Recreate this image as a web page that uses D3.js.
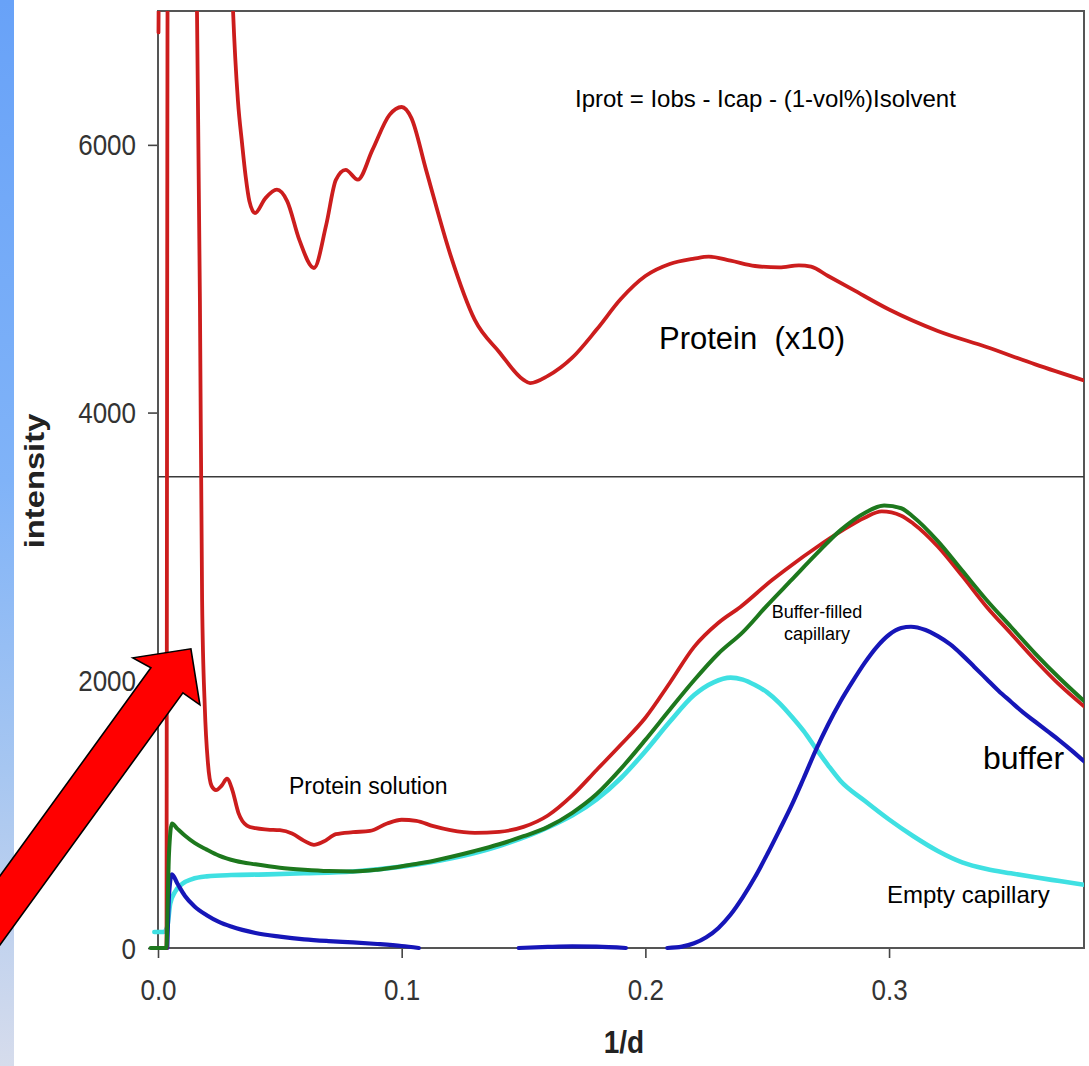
<!DOCTYPE html>
<html>
<head>
<meta charset="utf-8">
<script src="https://cdn.jsdelivr.net/npm/d3@7"></script>
<style>
  html, body { margin: 0; padding: 0; background: #ffffff; }
  svg { display: block; font-family: "Liberation Sans", Arial, Helvetica, sans-serif; }
</style>
</head>
<body>
<svg id="chart" width="1089" height="1066"></svg>
<script>
// Axis ticks
const xTicks = [0.0, 0.1, 0.2, 0.3];
const yTicks = [0, 2000, 4000, 6000];

// Protein solution (observed)
const redX = [0.0035, 0.0042, 0.0150, 0.0160, 0.0172, 0.0181, 0.0192, 0.0205, 0.0220, 0.0238,
              0.0262, 0.0283, 0.0305, 0.0330, 0.0365, 0.0400, 0.0450, 0.0500, 0.0550, 0.0600,
              0.0640, 0.0680, 0.0730, 0.0800, 0.0870, 0.0940, 0.1000, 0.1060, 0.1130, 0.1200,
              0.1300, 0.1400, 0.1500, 0.1600, 0.1700, 0.1800, 0.1900, 0.2000, 0.2100, 0.2200,
              0.2300, 0.2390, 0.2520, 0.2600, 0.2700, 0.2800, 0.2900, 0.2970, 0.3050, 0.3100,
              0.3200, 0.3300, 0.3400, 0.3500, 0.3600, 0.3700, 0.3800];
const redY = [0, 9000, 9000, 7000, 4840, 2600, 1800, 1380, 1210, 1180,
              1215, 1265, 1180, 1010, 915, 895, 885, 880, 855, 800,
              770, 795, 850, 865, 875, 930, 958, 950, 910, 880,
              860, 868, 905, 990, 1140, 1330, 1520, 1720, 1980, 2250,
              2430, 2548, 2749, 2860, 2990, 3110, 3215, 3262, 3230, 3170,
              3000, 2780, 2550, 2350, 2150, 1965, 1805];

// Buffer-filled capillary
const greenX = [-0.003, 0.0034, 0.0045, 0.0057, 0.0080, 0.0110, 0.0150, 0.0200, 0.0250, 0.0320,
                0.0400, 0.0500, 0.0600, 0.0700, 0.0800, 0.0900, 0.1000, 0.1100, 0.1200, 0.1300,
                0.1400, 0.1500, 0.1600, 0.1700, 0.1800, 0.1900, 0.2000, 0.2100, 0.2200, 0.2300,
                0.2400, 0.2500, 0.2600, 0.2700, 0.2800, 0.2900, 0.2980, 0.3050, 0.3100, 0.3200,
                0.3300, 0.3400, 0.3500, 0.3600, 0.3700, 0.3800];
const greenY = [0, 0, 700, 930, 890, 840, 785, 735, 690, 650,
                625, 600, 585, 575, 572, 585, 610, 640, 680, 725,
                775, 835, 905, 1010, 1150, 1340, 1555, 1780, 2000, 2200,
                2360, 2560, 2750, 2940, 3120, 3250, 3305, 3285, 3220, 3040,
                2820, 2600, 2400, 2200, 2015, 1845];

// Empty capillary
const cyanX = [-0.0015, 0.0025, 0.0038, 0.0050, 0.0070, 0.0100, 0.0140, 0.0200, 0.0300, 0.0450,
               0.0600, 0.0800, 0.1000, 0.1200, 0.1400, 0.1600, 0.1800, 0.1900, 0.2000, 0.2100,
               0.2200, 0.2280, 0.2350, 0.2400, 0.2450, 0.2500, 0.2550, 0.2600, 0.2650, 0.2700,
               0.2750, 0.2800, 0.2900, 0.3000, 0.3100, 0.3200, 0.3300, 0.3400, 0.3500, 0.3600,
               0.3700, 0.3800];
const cyanY = [120, 120, 160, 330, 420, 480, 515, 535, 545, 550,
               558, 572, 608, 668, 762, 900, 1110, 1270, 1470, 1690,
               1890, 1985, 2020, 2005, 1965, 1910, 1830, 1730, 1620, 1490,
               1365, 1250, 1100, 960, 835, 725, 640, 590, 558, 528,
               500, 472];

// Buffer (null = below zero, not drawn)
const blueX = [0.0038, 0.0046, 0.0057, 0.0080, 0.0110, 0.0150, 0.0200, 0.0250, 0.0300, 0.0400,
               0.0500, 0.0600, 0.0700, 0.0800, 0.0900, 0.1000, 0.1070, 0.1270, 0.1480, 0.1600,
               0.1700, 0.1800, 0.1920, 0.2000, 0.2090, 0.2150, 0.2200, 0.2250, 0.2300, 0.2350,
               0.2400, 0.2450, 0.2500, 0.2550, 0.2600, 0.2650, 0.2700, 0.2750, 0.2800, 0.2850,
               0.2900, 0.2950, 0.3000, 0.3050, 0.3090, 0.3150, 0.3200, 0.3250, 0.3300, 0.3350,
               0.3400, 0.3450, 0.3500, 0.3550, 0.3600, 0.3650, 0.3700, 0.3750, 0.3800];
const blueY = [0, 420, 550, 480, 390, 310, 245, 195, 160, 112,
               85, 65, 52, 42, 30, 15, 0, null, 0, 8,
               12, 10, 0, null, 0, 10, 35, 80, 150, 250,
               380, 530, 700, 880, 1065, 1270, 1480, 1670, 1840, 1990,
               2130, 2250, 2340, 2390, 2400, 2375, 2330, 2270, 2190, 2100,
               2010, 1920, 1840, 1760, 1690, 1620, 1550, 1475, 1395];

// Protein contribution, scaled x10
const protX = [0.0002, 0.0012, 0.0280, 0.0295, 0.0308, 0.0328, 0.0345, 0.0360, 0.0375, 0.0398,
               0.0440, 0.0488, 0.0530, 0.0580, 0.0640, 0.0690, 0.0730, 0.0770, 0.0820, 0.0880,
               0.0950, 0.1000, 0.1040, 0.1100, 0.1200, 0.1300, 0.1400, 0.1500, 0.1527, 0.1600,
               0.1700, 0.1800, 0.1900, 0.2000, 0.2100, 0.2200, 0.2260, 0.2350, 0.2450, 0.2550,
               0.2630, 0.2680, 0.2750, 0.2850, 0.3000, 0.3200, 0.3400, 0.3600, 0.3800];
const protY = [6840, 9000, 9000, 7700, 7000, 6330, 6010, 5760, 5580, 5490,
               5600, 5665, 5580, 5290, 5080, 5400, 5738, 5813, 5740, 5962,
               6224, 6283, 6200, 5813, 5178, 4692, 4453, 4244, 4220, 4274,
               4410, 4620, 4850, 5020, 5110, 5150, 5165, 5135, 5095, 5085,
               5100, 5090, 5020, 4920, 4770, 4610, 4490, 4360, 4240];

// Divider between the scaled protein panel and the raw curves
const dividerValue = 3520;
// Point the arrow aims at (the protein-solution spike)
const arrowTip = [0.0135, 2235];

const svg = d3.select("#chart");
const W = 1089, H = 1066;

const x = d3.scaleLinear().domain([0, 0.38]).range([158, 1084]);
const y = d3.scaleLinear().domain([0, 7000]).range([948, 11]);

// Blue side strip
const defs = svg.append("defs");
const grad = defs.append("linearGradient").attr("id", "strip")
  .attr("x1", 0).attr("y1", 0).attr("x2", 0).attr("y2", 1);
[[0, "#68a2f8"], [0.45, "#80b3f8"], [0.72, "#a6c6f1"], [1, "#d6dcec"]].forEach(s =>
  grad.append("stop").attr("offset", s[0]).attr("stop-color", s[1]));
svg.append("rect").attr("x", 0).attr("y", 0).attr("width", 14).attr("height", H)
  .attr("fill", "url(#strip)");

// Clip for the curves (cut at the top of the frame)
defs.append("clipPath").attr("id", "plotClip").append("rect")
  .attr("x", x(0) - 10).attr("y", y(7000))
  .attr("width", x(0.38) - x(0) + 10).attr("height", y(0) - y(7000) + 20);

// Axes
const stretch = 1.13;
const yAxis = d3.axisLeft(y).tickValues(yTicks).tickSize(10).tickFormat(d3.format("d"));
const gy = svg.append("g").attr("transform", `translate(${x(0)},0)`).call(yAxis);
gy.select(".domain").remove();
gy.selectAll(".tick line").attr("stroke", "#444").attr("stroke-width", 1.6);
gy.selectAll(".tick text")
  .attr("x", -22).attr("y", 0).attr("dy", null)
  .attr("transform", `translate(0,10) scale(1,${stretch})`)
  .attr("font-size", 26).attr("fill", "#333")
  .attr("font-family", "Liberation Sans, Arial, sans-serif");

const xAxis = d3.axisBottom(x).tickValues(xTicks).tickSize(10).tickFormat(d3.format(".1f"));
const gx = svg.append("g").attr("transform", `translate(0,${y(0)})`).call(xAxis);
gx.select(".domain").remove();
gx.selectAll(".tick line").attr("stroke", "#444").attr("stroke-width", 1.6);
gx.selectAll(".tick text")
  .attr("y", 0).attr("dy", null)
  .attr("transform", `translate(0,52) scale(1,${stretch})`)
  .attr("font-size", 26).attr("fill", "#333")
  .attr("font-family", "Liberation Sans, Arial, sans-serif");

// Frame
svg.append("rect")
  .attr("x", x(0)).attr("y", y(7000))
  .attr("width", x(0.38) - x(0)).attr("height", y(0) - y(7000))
  .attr("fill", "none").attr("stroke", "#555").attr("stroke-width", 2);

// Divider line
svg.append("line")
  .attr("x1", x(0)).attr("x2", x(0.38))
  .attr("y1", y(dividerValue)).attr("y2", y(dividerValue))
  .attr("stroke", "#3a3a3a").attr("stroke-width", 1.6);

// Axis titles
svg.append("text")
  .attr("transform", `translate(44,481) rotate(-90) scale(1.17,1)`)
  .attr("text-anchor", "middle").attr("font-size", 28).attr("font-weight", "bold")
  .attr("fill", "#222").text("intensity");
svg.append("text")
  .attr("transform", `translate(${(x(0) + x(0.38)) / 2 + 3},1053) scale(1,${stretch})`)
  .attr("text-anchor", "middle").attr("font-size", 28).attr("font-weight", "bold")
  .attr("fill", "#222").text("1/d");

// Curves
const zip = (xs, ys) => xs.map((v, i) => [v, ys[i]]);
const line = d3.line()
  .defined(d => d[1] !== null)
  .x(d => x(d[0])).y(d => y(d[1]))
  .curve(d3.curveMonotoneX);

const curves = svg.append("g").attr("clip-path", "url(#plotClip)")
  .attr("fill", "none").attr("stroke-linejoin", "round").attr("stroke-linecap", "round");

const series = [
  { xs: cyanX,  ys: cyanY,  color: "#3fe0e2", w: 4.6 },
  { xs: blueX,  ys: blueY,  color: "#1616b8", w: 4.2 },
  { xs: protX,  ys: protY,  color: "#cc1d1d", w: 3.8 },
  { xs: redX,   ys: redY,   color: "#cc1d1d", w: 3.8 },
  { xs: greenX, ys: greenY, color: "#1d781d", w: 4.0 }
];
series.forEach(s => {
  curves.append("path")
    .attr("d", line(zip(s.xs, s.ys)))
    .attr("stroke", s.color).attr("stroke-width", s.w);
});

// Annotations
const ann = svg.append("g").attr("fill", "#000");
ann.append("text").attr("x", 575).attr("y", 107).attr("font-size", 24)
  .text("Iprot = Iobs - Icap - (1-vol%)Isolvent");
ann.append("text").attr("x", 659).attr("y", 349).attr("font-size", 31)
  .style("white-space", "pre").text("Protein  (x10)");
ann.append("text").attr("x", 289).attr("y", 794).attr("font-size", 23)
  .text("Protein solution");
ann.append("text").attr("x", 817).attr("y", 618).attr("font-size", 18)
  .attr("text-anchor", "middle").text("Buffer-filled");
ann.append("text").attr("x", 817).attr("y", 640).attr("font-size", 18)
  .attr("text-anchor", "middle").text("capillary");
ann.append("text").attr("x", 983).attr("y", 769).attr("font-size", 32)
  .text("buffer");
ann.append("text").attr("x", 887).attr("y", 903).attr("font-size", 24)
  .text("Empty capillary");

// Block arrow pointing at the spike
const arrowShape = [[0, 0], [9, 56], [-8, 44], [-201, 310], [-201, 241], [-40, 19], [-58, 9]];
svg.append("polygon")
  .attr("transform", `translate(${x(arrowTip[0])},${y(arrowTip[1])})`)
  .attr("points", arrowShape.map(p => p.join(",")).join(" "))
  .attr("fill", "#ff0000").attr("stroke", "#000").attr("stroke-width", 1.6)
  .attr("stroke-linejoin", "miter");
</script>
</body>
</html>
